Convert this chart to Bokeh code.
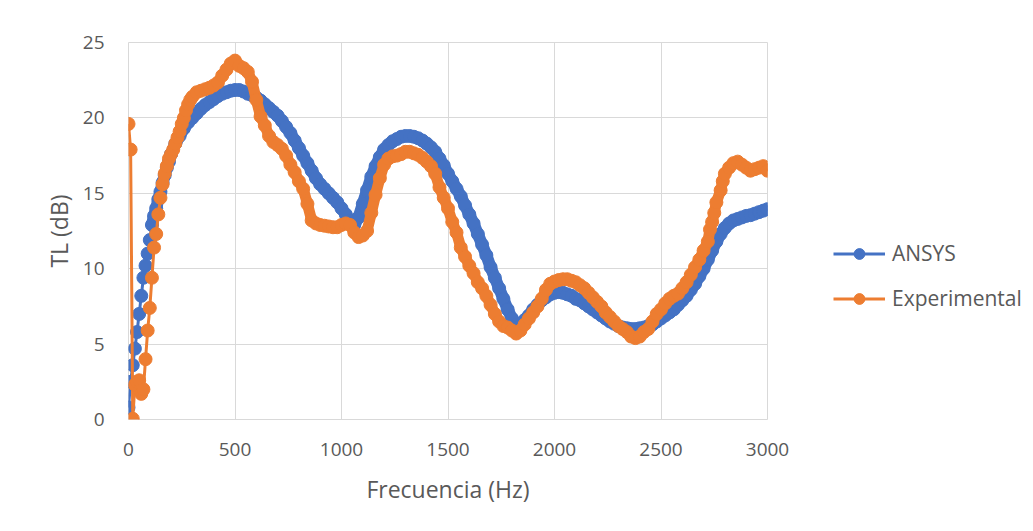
from bokeh.plotting import figure
from bokeh.models import Range1d, FixedTicker, Legend, LegendItem
from bokeh.embed import file_html
from bokeh.resources import INLINE

# ---- data ----
ansys_freq = [0, 10, 20, 30, 40, 50, 60, 70, 80, 90, 100, 110, 120, 130, 140, 150, 160, 170, 180, 190,
              200, 220, 240, 260, 280, 300, 320, 340, 360, 380, 400, 420, 440, 460, 480, 500, 520, 540,
              560, 580, 600, 620, 640, 660, 680, 700, 720, 740, 760, 780, 800, 820, 840, 860, 880, 900,
              920, 940, 960, 980, 1000, 1020, 1040, 1060, 1080, 1100, 1120, 1140, 1160, 1180, 1200,
              1220, 1240, 1260, 1280, 1300, 1320, 1340, 1360, 1380, 1400, 1420, 1440, 1460, 1480, 1500,
              1520, 1540, 1560, 1580, 1600, 1620, 1640, 1660, 1680, 1700, 1720, 1740, 1760, 1780, 1800,
              1820, 1840, 1860, 1880, 1900, 1920, 1940, 1960, 1980, 2000, 2020, 2040, 2060, 2080, 2100,
              2120, 2140, 2160, 2180, 2200, 2220, 2240, 2260, 2280, 2300, 2320, 2340, 2360, 2380, 2400,
              2420, 2440, 2460, 2480, 2500, 2520, 2540, 2560, 2580, 2600, 2620, 2640, 2660, 2680, 2700,
              2720, 2740, 2760, 2780, 2800, 2820, 2840, 2860, 2880, 2900, 2920, 2940, 2960, 2980, 3000]
ansys_tl = [0.8, 2.5, 3.6, 4.7, 5.8, 7.0, 8.2, 9.4, 10.2, 11.0, 11.9, 12.9, 13.5, 14.0, 14.6, 15.1, 15.7, 16.2, 16.7, 17.1,
            17.6, 18.3, 18.8, 19.3, 19.7, 20.0, 20.3, 20.6, 20.85, 21.05, 21.25, 21.45, 21.6, 21.7, 21.8, 21.85, 21.85, 21.75,
            21.6, 21.5, 21.35, 21.15, 20.9, 20.65, 20.4, 20.15, 19.8, 19.4, 19.0, 18.5, 18.0, 17.5, 17.0, 16.5, 16.0, 15.6,
            15.3, 15.0, 14.7, 14.4, 14.0, 13.6, 13.2, 12.9, 13.4, 14.3, 15.2, 16.1, 16.8, 17.4, 17.9,
            18.2, 18.45, 18.6, 18.75, 18.8, 18.8, 18.75, 18.65, 18.5, 18.3, 18.05, 17.75, 17.3, 16.85, 16.3,
            15.8, 15.3, 14.8, 14.2, 13.6, 13.0, 12.3, 11.6, 10.9, 10.1, 9.4, 8.7, 8.0, 7.3, 6.7,
            6.3, 6.3, 6.6, 6.9, 7.3, 7.6, 7.9, 8.1, 8.3, 8.4, 8.45, 8.4, 8.3, 8.2, 8.0,
            7.9, 7.7, 7.5, 7.3, 7.1, 6.9, 6.7, 6.5, 6.35, 6.2, 6.1, 6.05, 6.0, 6.0, 6.05,
            6.1, 6.2, 6.3, 6.5, 6.7, 6.9, 7.1, 7.3, 7.6, 7.9, 8.2, 8.6, 9.0, 9.5, 10.0,
            10.6, 11.2, 11.8, 12.3, 12.7, 13.0, 13.2, 13.3, 13.4, 13.5, 13.55, 13.65, 13.75, 13.85, 13.95]

exp_freq = [0, 10, 20, 30, 40, 50, 60, 70, 80, 90, 100, 110, 120, 130, 140, 150, 160, 170, 180, 190,
            200, 210, 220, 230, 240, 250, 260, 270, 280, 290, 300, 320, 340, 360, 380, 400, 420, 440,
            460, 480, 500, 520, 540, 560, 580, 600, 620, 640, 660, 680, 700, 720, 740, 760, 780, 800,
            820, 840, 860, 880, 900, 920, 940, 960, 980, 1000, 1020, 1040, 1060, 1080, 1100, 1120,
            1140, 1160, 1180, 1200, 1220, 1240, 1260, 1280, 1300, 1320, 1340, 1360, 1380, 1400, 1420,
            1440, 1460, 1480, 1500, 1520, 1540, 1560, 1580, 1600, 1620, 1640, 1660, 1680, 1700, 1720,
            1740, 1760, 1780, 1800, 1820, 1840, 1860, 1880, 1900, 1920, 1940, 1960, 1980, 2000, 2020,
            2040, 2060, 2080, 2100, 2120, 2140, 2160, 2180, 2200, 2220, 2240, 2260, 2280, 2300, 2320,
            2340, 2360, 2380, 2400, 2420, 2440, 2460, 2480, 2500, 2520, 2540, 2560, 2580, 2600, 2620,
            2640, 2660, 2680, 2700, 2720, 2730, 2740, 2750, 2760, 2780, 2790, 2800, 2820, 2840, 2860,
            2880, 2900, 2920, 2940, 2960, 2980, 3000]
exp_tl = [19.6, 17.9, 0.05, 2.3, 2.5, 2.6, 1.7, 2.0, 4.0, 5.9, 7.4, 9.4, 11.4, 12.3, 13.6, 14.7, 15.6, 16.3, 16.8, 17.3,
          17.6, 17.9, 18.3, 18.7, 19.1, 19.6, 20.0, 20.5, 20.9, 21.2, 21.4, 21.7, 21.8, 21.9, 22.0, 22.15, 22.35, 22.8,
          23.2, 23.6, 23.8, 23.45, 23.3, 23.05, 22.4, 21.2, 20.1, 19.5, 18.8, 18.4, 18.2, 17.95, 17.5, 16.9, 16.4, 15.8,
          15.3, 14.3, 13.2, 13.0, 12.9, 12.85, 12.8, 12.75, 12.75, 12.9, 13.0, 12.9, 12.4, 12.1, 12.2, 12.5,
          13.7, 14.9, 16.0, 16.9, 17.3, 17.45, 17.5, 17.6, 17.75, 17.75, 17.65, 17.55, 17.35, 17.1, 16.8,
          16.3, 15.4, 14.7, 14.0, 13.1, 12.4, 11.4, 10.8, 10.2, 9.7, 9.1, 8.7, 8.2, 7.6, 7.0,
          6.5, 6.2, 6.1, 5.9, 5.7, 5.9, 6.3, 6.7, 7.1, 7.5, 8.0, 8.6, 9.0, 9.15, 9.25,
          9.3, 9.3, 9.2, 9.1, 8.9, 8.7, 8.4, 8.1, 7.8, 7.5, 7.1, 6.8, 6.5, 6.2, 6.0,
          5.8, 5.5, 5.4, 5.5, 5.8, 6.0, 6.5, 7.0, 7.3, 7.7, 8.0, 8.2, 8.35, 8.7, 9.1,
          9.6, 10.1, 10.6, 11.2, 11.8, 12.6, 13.1, 13.7, 14.4, 15.2, 15.8, 16.3, 16.7, 17.0, 17.1,
          16.9, 16.7, 16.5, 16.6, 16.7, 16.8, 16.5]

x_ticks = [0, 500, 1000, 1500, 2000, 2500, 3000]
y_ticks = [0, 5, 10, 15, 20, 25]
series_names = ["ANSYS", "Experimental"]

BLUE = "#4472C4"
ORANGE = "#ED7D31"
TEXT = "#595959"
GRID = "#D9D9D9"
FONT = "Open Sans"
MSIZE = 13

p = figure(frame_width=639, frame_height=377, output_backend="svg", toolbar_location=None,
           x_range=Range1d(0, 3000), y_range=Range1d(0, 25),
           min_border_left=128, min_border_top=42, min_border_bottom=96, min_border_right=10)
p.outline_line_color = GRID
p.background_fill_color = "white"
p.border_fill_color = "white"

p.xaxis.ticker = FixedTicker(ticks=x_ticks)
p.yaxis.ticker = FixedTicker(ticks=y_ticks)
p.xgrid.ticker = FixedTicker(ticks=x_ticks)
p.ygrid.ticker = FixedTicker(ticks=y_ticks)
for g in (p.xgrid, p.ygrid):
    g.grid_line_color = GRID
    g.grid_line_width = 1

for ax in (p.xaxis, p.yaxis):
    ax.axis_line_color = None
    ax.major_tick_line_color = None
    ax.minor_tick_line_color = None
    ax.major_tick_out = 0
    ax.major_tick_in = 0
    ax.major_label_text_font = FONT
    ax.major_label_text_font_size = "19px"
    ax.major_label_text_color = TEXT
    ax.axis_label_text_font = FONT
    ax.axis_label_text_font_size = "23px"
    ax.axis_label_text_font_style = "normal"
    ax.axis_label_text_color = TEXT

p.xaxis.axis_label = "Frecuencia (Hz)"
p.yaxis.axis_label = "TL (dB)"
p.xaxis.major_label_standoff = 23
p.yaxis.major_label_standoff = 24
p.xaxis.axis_label_standoff = 14
p.yaxis.axis_label_standoff = 5


def band_start(freqs, f0):
    for i, f in enumerate(freqs):
        if f >= f0:
            return i
    return 0


# dense-marker look: a marker-wide stroke through the same points where the
# reference's markers overlap into a continuous band
ia = band_start(ansys_freq, 110)
ie = band_start(exp_freq, 160)

l1 = p.line(ansys_freq, ansys_tl, line_color=BLUE, line_width=3)
p.line(ansys_freq[ia:], ansys_tl[ia:], line_color=BLUE, line_width=MSIZE - 1,
       line_join="round", line_cap="round")
s1 = p.scatter(ansys_freq, ansys_tl, marker="circle", size=MSIZE, fill_color=BLUE, line_color=BLUE)

l2 = p.line(exp_freq, exp_tl, line_color=ORANGE, line_width=3)
p.line(exp_freq[ie:], exp_tl[ie:], line_color=ORANGE, line_width=MSIZE - 2,
       line_join="round", line_cap="round")
s2 = p.scatter(exp_freq, exp_tl, marker="circle", size=MSIZE, fill_color=ORANGE, line_color=ORANGE)

legend = Legend(items=[LegendItem(label=series_names[0], renderers=[l1, s1]),
                       LegendItem(label=series_names[1], renderers=[l2, s2])],
                location=(66, 107), padding=0, margin=0, spacing=17,
                glyph_width=52, glyph_height=27, label_height=27, label_standoff=7,
                label_text_font=FONT, label_text_font_size="21px", label_text_color=TEXT,
                border_line_color=None, background_fill_alpha=0)
p.add_layout(legend, "right")

open("out.html", "w").write(file_html(p, INLINE))
